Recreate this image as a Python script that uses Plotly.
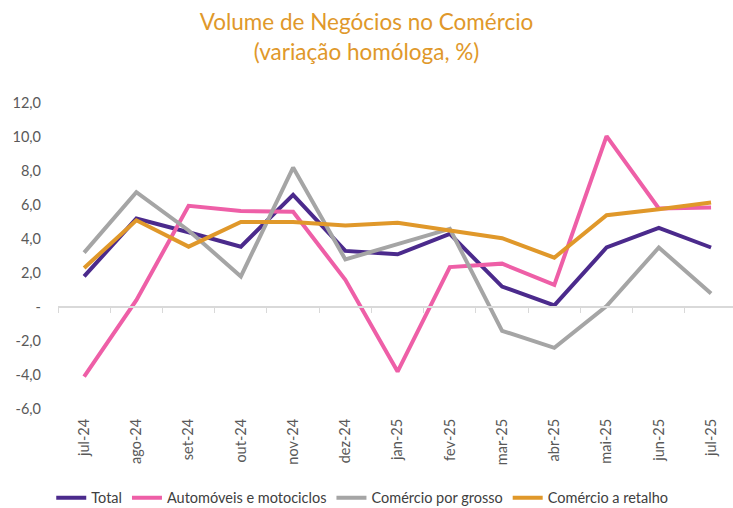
import plotly.graph_objects as go

months = ["jul-24", "ago-24", "set-24", "out-24", "nov-24", "dez-24", "jan-25",
          "fev-25", "mar-25", "abr-25", "mai-25", "jun-25", "jul-25"]
total = [1.8, 5.2, 4.4, 3.55, 6.6, 3.3, 3.1, 4.3, 1.2, 0.1, 3.5, 4.65, 3.5]
automoveis = [-4.1, 0.4, 5.95, 5.65, 5.6, 1.6, -3.8, 2.35, 2.55, 1.3, 10.05, 5.8, 5.85]
grosso = [3.2, 6.75, 4.5, 1.8, 8.2, 2.8, 3.7, 4.6, -1.4, -2.4, 0.05, 3.5, 0.8]
retalho = [2.3, 5.1, 3.55, 5.0, 5.0, 4.8, 4.95, 4.5, 4.05, 2.9, 5.4, 5.75, 6.15]

series_names = ["Total", "Automóveis e motociclos", "Comércio por grosso", "Comércio a retalho"]
series_colors = ["#4B2A8C", "#EE5FA7", "#A5A5A5", "#E0982A"]

y_tickvals = [12, 10, 8, 6, 4, 2, 0, -2, -4, -6]
y_ticktext = ["12,0", "10,0", "8,0", "6,0", "4,0", "2,0", "-", "-2,0", "-4,0", "-6,0"]

FONT = "Lato, 'Open Sans', sans-serif"

fig = go.Figure()
for name, vals, col in zip(series_names, [total, automoveis, grosso, retalho], series_colors):
    fig.add_trace(go.Scatter(x=months, y=vals, name=name, mode="lines",
                             line=dict(color=col, width=4)))

# invisible helper trace so the zero-line category axis is drawn
fig.add_trace(go.Scatter(x=months, y=[None] * len(months), xaxis="x2", showlegend=False,
                         hoverinfo="skip", mode="lines"))

fig.update_layout(
    width=733, height=508,
    margin=dict(l=58, r=0, t=103, b=99, autoexpand=False),
    paper_bgcolor="white", plot_bgcolor="white",
    font=dict(family=FONT, color="#595959", size=14.5),
    title=dict(text="Volume de Negócios no Comércio<br>(variação homóloga, %)",
               x=0.5, xanchor="center", y=0.94, yanchor="top",
               font=dict(family=FONT, size=22.5, color="#E0982A")),
    xaxis=dict(type="category", range=[-0.5, 12.42], showline=False, showgrid=False,
               ticks="", tickangle=-90, ticklabelstandoff=6, automargin=False,
               tickfont=dict(size=14.5, color="#595959")),
    xaxis2=dict(type="category", overlaying="x", matches="x", anchor="free", position=1/3,
                showline=True, linecolor="#D9D9D9", linewidth=1.5, showgrid=False,
                ticks="outside", tickson="boundaries", ticklen=5, tickcolor="#D9D9D9",
                showticklabels=False, automargin=False),
    yaxis=dict(range=[-6, 12], tickvals=y_tickvals, ticktext=y_ticktext, automargin=False,
               showgrid=False, zeroline=False, showline=False, ticks="",
               ticklabelstandoff=16, tickfont=dict(size=14.5, color="#595959")),
    legend=dict(orientation="h", x=-0.01, xanchor="left", y=-0.29, yanchor="middle",
                font=dict(size=14.5, color="#404040"), itemwidth=30,
                tracegroupgap=0),
    showlegend=True,
)

fig.write_html("out.html", config={"displayModeBar": False},
               post_script="document.body.style.margin='0';document.body.style.overflow='hidden';")
